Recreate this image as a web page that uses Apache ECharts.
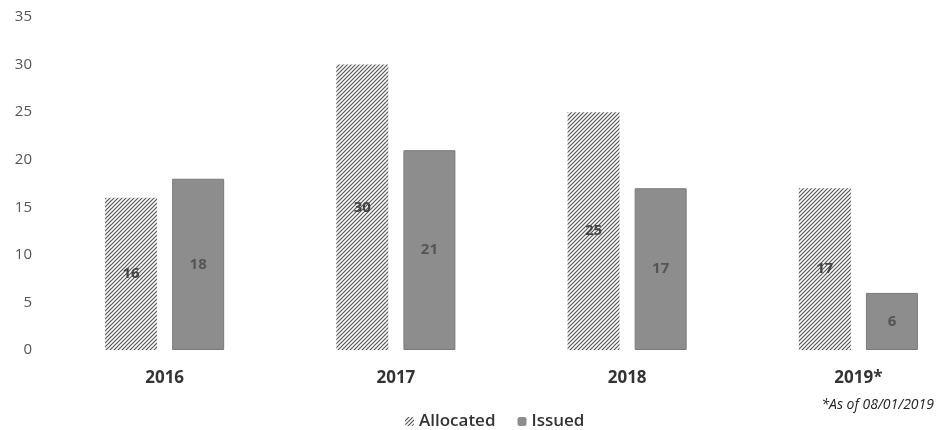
<!DOCTYPE html>
<html><head><meta charset="utf-8">
<script src="https://cdn.jsdelivr.net/npm/echarts@6/dist/echarts.min.js"></script>
<style>html,body{margin:0;padding:0;background:#fff}#c{width:936px;height:430px}</style>
</head><body><div id="c"></div>
<script>
var categories = ['2016', '2017', '2018', '2019*'];
var allocated = [16, 30, 25, 17];
var issued = [18, 21, 17, 6];
var yTicks = [0, 5, 10, 15, 20, 25, 30, 35];

function hatch() {
  var c = document.createElement('canvas');
  c.width = 4; c.height = 4;
  var g = c.getContext('2d');
  g.fillStyle = '#fff'; g.fillRect(0, 0, 4, 4);
  g.strokeStyle = '#555'; g.lineWidth = 1.2;
  g.beginPath();
  g.moveTo(-1, 5); g.lineTo(5, -1);
  g.moveTo(-1, 1); g.lineTo(1, -1);
  g.moveTo(3, 5); g.lineTo(5, 3);
  g.stroke();
  return c;
}
var pat = { image: hatch(), repeat: 'repeat' };

var chart = echarts.init(document.getElementById('c'));
chart.setOption({
  animation: false,
  textStyle: { fontFamily: 'Open Sans' },
  grid: { left: 49, right: -38, top: 17, bottom: 80, outerBoundsMode: 'none', containLabel: false },
  legend: {
    left: 400, bottom: -5, itemWidth: 9, itemHeight: 9, itemGap: 22, itemStyle: { borderWidth: 0 },
    textStyle: { fontSize: 17, color: '#333', fontWeight: 600 },
    data: ['Allocated', 'Issued']
  },
  xAxis: {
    type: 'category', data: categories,
    axisLine: { show: false }, axisTick: { show: false },
    axisLabel: { fontSize: 17, color: '#333', fontWeight: 'bold', margin: 20 }
  },
  yAxis: {
    type: 'value', min: 0, max: 35, interval: 5,
    splitLine: { show: false }, axisLine: { show: false }, axisTick: { show: false },
    axisLabel: { fontSize: 15, color: '#555', margin: 17,
      formatter: function (v) { return yTicks.indexOf(v) >= 0 ? String(v) : ''; } }
  },
  series: [
    { name: 'Allocated', type: 'bar', data: allocated, barWidth: 52, barGap: '29%',
      itemStyle: { color: pat },
      label: { show: true, position: 'inside', fontSize: 15, fontWeight: 'bold', color: '#444' } },
    { name: 'Issued', type: 'bar', data: issued, barWidth: 52,
      itemStyle: { color: '#8d8d8d', borderColor: '#7a7a7a', borderWidth: 1 },
      label: { show: true, position: 'inside', fontSize: 15, fontWeight: 'bold', color: '#555' } }
  ],
  graphic: [{
    type: 'text', right: 2, top: 398,
    style: { text: '*As of 08/01/2019', fontSize: 14, fontStyle: 'italic', fill: '#222', fontFamily: 'Open Sans' }
  }]
});
</script></body></html>
